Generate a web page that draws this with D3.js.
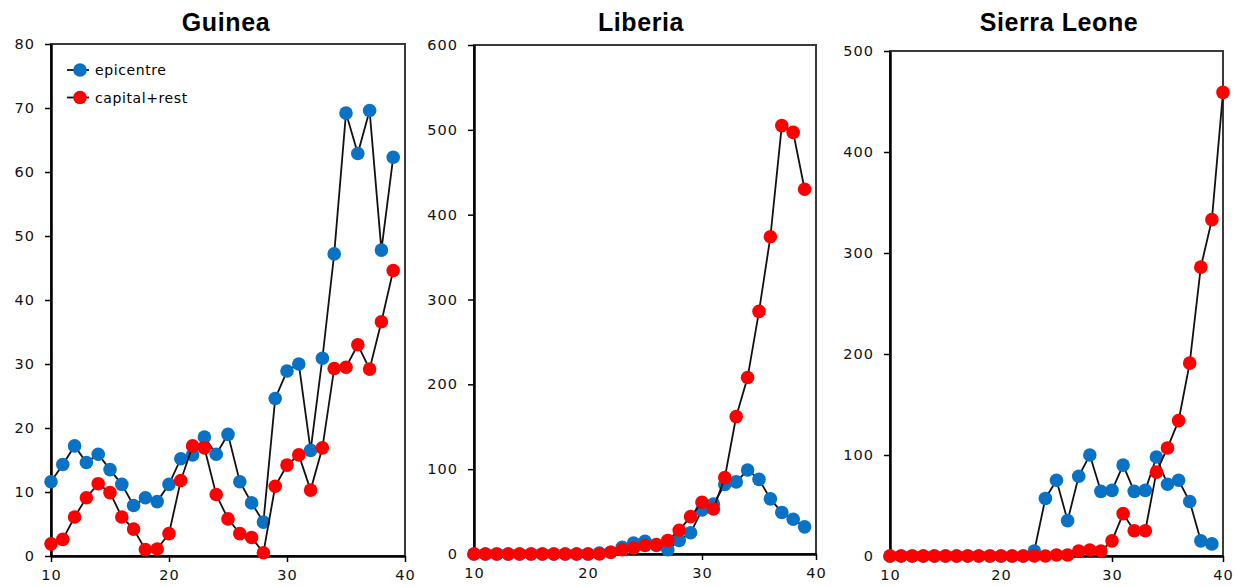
<!DOCTYPE html>
<html lang="en">
<head>
<meta charset="utf-8">
<title>Epicentre vs capital+rest</title>
<script src="https://d3js.org/d3.v7.js"></script>
<style>
  body { margin: 0; background: white; }
  text { font-family: "DejaVu Sans", Verdana, sans-serif; }
</style>
</head>
<body>
<script>
// weeks
const weeks = [10,11,12,13,14,15,16,17,18,19,20,21,22,23,24,25,26,27,28,29,30,31,32,33,34,35,36,37,38,39];
const weeksSLred = [10,11,12,13,14,15,16,17,18,19,20,21,22,23,24,25,26,27,28,29,30,31,32,33,34,35,36,37,38,39,40];

// Guinea
const guineaEpi = [11.6,14.3,17.2,14.6,15.9,13.5,11.2,7.9,9.1,8.5,11.2,15.2,15.8,18.6,15.9,19.0,11.6,8.3,5.3,24.6,28.9,30.0,16.5,30.9,47.2,69.2,62.9,69.6,47.8,62.3];
const guineaCap = [1.9,2.6,6.1,9.1,11.3,9.9,6.1,4.2,1.0,1.1,3.5,11.8,17.2,16.9,9.6,5.8,3.5,2.9,0.5,10.9,14.2,15.8,10.3,16.9,29.3,29.5,33.0,29.2,36.6,44.6];

// Liberia
const liberiaEpi = [0,0,0,0,0,0,0,0,0,0,0,1,2,8,13,15,10,5,16,25,52,59,82,85,99,88,65,49,41,32];
const liberiaCap = [0,0,0,0,0,0,0,0,0,0,0,0,2,5,7,10,11,16,28,44,61,53,90,162,208,286,374,505,497,430];

// Sierra Leone
const sierraEpi = [0,0,0,0,0,0,0,0,0,0,0,0,0,5,57,75,35,79,100,64,65,90,64,65,98,71,75,54,15,12];
const sierraCap = [0,0,0,0,0,0,0,0,0,0,0,0,0,0,0,1,1,5,6,5,15,42,25,25,83,107,134,191,286,333,459];

const xTicks = [10,20,30,40];
const guineaTicks = [0,10,20,30,40,50,60,70,80];
const liberiaTicks = [0,100,200,300,400,500,600];
const sierraTicks = [0,100,200,300,400,500];

const seriesNames = ["epicentre", "capital+rest"];
const blue = "#0a72c4";
const red = "#ff0000";

const W = 1237, H = 586;
const svg = d3.select("body").append("svg")
  .attr("width", W)
  .attr("height", H);

const panels = [
  {title: "Guinea", left: 51, right: 405, top: 44, bottom: 556, max: 80, ticks: guineaTicks,
   epi: [weeks, guineaEpi], cap: [weeks, guineaCap], legend: true, tx: 226},
  {title: "Liberia", left: 474, right: 816, top: 45, bottom: 554, max: 600, ticks: liberiaTicks,
   epi: [weeks, liberiaEpi], cap: [weeks, liberiaCap], tx: 641},
  {title: "Sierra Leone", left: 890, right: 1223, top: 51, bottom: 556, max: 500, ticks: sierraTicks,
   epi: [weeks, sierraEpi], cap: [weeksSLred, sierraCap], tx: 1059}
];

panels.forEach(function(p) {
  const x = d3.scaleLinear().domain([10, 40]).range([p.left, p.right]);
  const y = d3.scaleLinear().domain([0, p.max]).range([p.bottom, p.top]);
  const g = svg.append("g");

  // frame (top / right greyish)
  g.append("rect")
    .attr("x", p.left).attr("y", p.top)
    .attr("width", p.right - p.left).attr("height", p.bottom - p.top)
    .attr("fill", "none").attr("stroke", "#3a3a3a").attr("stroke-width", 2);

  const yAxis = g.append("g")
    .attr("transform", `translate(${p.left},0)`)
    .call(d3.axisLeft(y).tickValues(p.ticks).tickSize(6).tickPadding(10).tickSizeOuter(0));
  const xAxis = g.append("g")
    .attr("transform", `translate(0,${p.bottom})`)
    .call(d3.axisBottom(x).tickValues(xTicks).tickSize(6).tickPadding(8).tickSizeOuter(0));

  [yAxis, xAxis].forEach(function(a) {
    a.select(".domain").attr("stroke", "#000").attr("stroke-width", 2.5);
    a.selectAll(".tick line").attr("stroke", "#000").attr("stroke-width", 1.5);
    a.selectAll(".tick text")
      .attr("font-size", 14.5)
      .attr("letter-spacing", 1)
      .attr("fill", "#111")
      .style("font-family", '"DejaVu Sans", Verdana, sans-serif');
  });

  g.append("text")
    .attr("x", p.tx)
    .attr("y", 31)
    .attr("text-anchor", "middle")
    .attr("font-size", 25)
    .attr("font-weight", "bold")
    .attr("letter-spacing", 0.6)
    .style("font-family", '"Liberation Sans", Arial, sans-serif')
    .text(p.title);

  const line = d3.line().x(d => x(d[0])).y(d => y(d[1]));

  [[p.epi, blue], [p.cap, red]].forEach(function(s) {
    const pts = d3.zip(s[0][0], s[0][1]);
    g.append("path")
      .attr("d", line(pts))
      .attr("fill", "none")
      .attr("stroke", "#111")
      .attr("stroke-width", 1.8);
    g.selectAll(null)
      .data(pts)
      .enter()
      .append("circle")
      .attr("cx", d => x(d[0]))
      .attr("cy", d => y(d[1]))
      .attr("r", 6.8)
      .attr("fill", s[1]);
  });

  if (p.legend) {
    const lg = g.append("g");
    seriesNames.forEach(function(name, i) {
      const ly = 70 + i * 27.5;
      lg.append("line")
        .attr("x1", 67).attr("x2", 89)
        .attr("y1", ly).attr("y2", ly)
        .attr("stroke", "#111").attr("stroke-width", 1.8);
      lg.append("circle")
        .attr("cx", 80).attr("cy", ly).attr("r", 6.8)
        .attr("fill", i === 0 ? blue : red);
      lg.append("text")
        .attr("x", 95).attr("y", ly + 5)
        .attr("font-size", 14)
        .attr("letter-spacing", 0.6)
        .text(name);
    });
  }
});
</script>
</body>
</html>
